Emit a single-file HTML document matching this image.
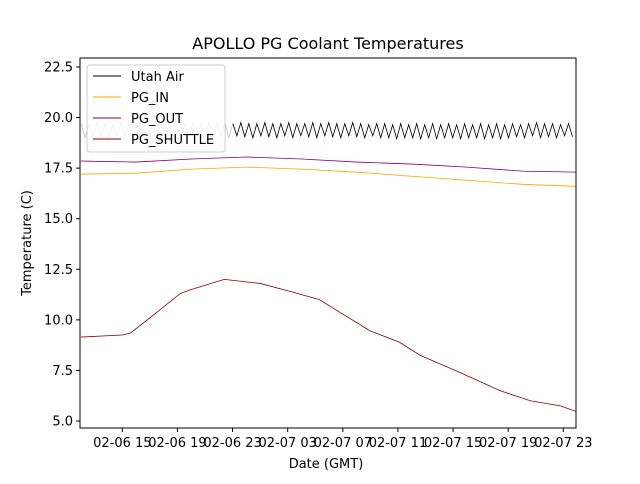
<!DOCTYPE html>
<html><head><meta charset="utf-8"><style>
body{margin:0;background:#fff;font-family:"DejaVu Sans","Liberation Sans",sans-serif}
svg text{font-family:"DejaVu Sans","Liberation Sans",sans-serif}
</style></head><body>
<svg id="c" width="640" height="480">
<rect width="640" height="480" fill="#fff"/>
<text x="328" y="49" font-size="16" text-anchor="middle">APOLLO PG Coolant Temperatures</text>
<text x="326" y="468" font-size="13" text-anchor="middle">Date (GMT)</text>
<text transform="translate(31,243) rotate(-90)" font-size="13" text-anchor="middle">Temperature (C)</text>
<g id="marks"></g><g id="axes"></g>
</svg>
<script>
// hours since 02-06 12:00
const shuttleT=[0,3,3.6,5,7.2,8,10.4,13,15.2,17.3,19.2,21,23.1,24.6,27.5,30.4,32.6,34.8,36];
const shuttleV=[9.15,9.25,9.35,10.1,11.3,11.5,12.0,11.8,11.4,11.0,10.2,9.45,8.9,8.25,7.4,6.5,6.0,5.75,5.45];
const outT=[0,4,8,12,16,20,24,28,32,36];
const outV=[17.85,17.8,17.95,18.05,17.95,17.8,17.7,17.55,17.35,17.3];
const inT=[0,4,8,12,16,20,24,28,32,36];
const inV=[17.2,17.25,17.45,17.55,17.45,17.3,17.1,16.9,16.7,16.6];
// alternating peaks / troughs of Utah Air, one every ~0.29 h
const airV=[
19.7,19.0,19.7,19.1,19.75,19.05,19.7,19.0,19.7,19.1,
19.75,19.05,19.7,19.0,19.7,19.1,19.75,19.05,19.7,19.0,
19.7,19.1,19.75,19.05,19.7,19.0,19.7,19.1,19.75,19.05,
19.7,19.0,19.75,19.1,19.7,19.05,19.75,19.0,19.7,19.1,
19.75,19.05,19.7,19.0,19.7,19.1,19.75,19.05,19.7,19.0,
19.7,19.1,19.75,19.0,19.7,19.1,19.7,19.05,19.75,19.0,
19.7,19.1,19.75,19.05,19.7,19.0,19.7,19.1,19.75,19.05,
19.7,19.0,19.65,19.1,19.7,19.0,19.7,19.0,19.65,18.95,
19.7,19.0,19.65,19.0,19.7,18.95,19.65,19.0,19.7,18.95,
19.65,19.0,19.7,19.0,19.65,18.95,19.7,19.0,19.65,19.0,
19.7,18.95,19.65,19.0,19.7,18.95,19.65,19.0,19.7,19.05,
19.65,19.0,19.7,19.1,19.75,19.0,19.7,19.05,19.7,19.0,
19.65,19.1,19.7,19.05];
const airStep=0.29;
const yTicks=[5.0,7.5,10.0,12.5,15.0,17.5,20.0,22.5];
const xTickT=[3,7,11,15,19,23,27,31,35];
const xTickL=["02-06 15","02-06 19","02-06 23","02-07 03","02-07 07","02-07 11","02-07 15","02-07 19","02-07 23"];
const X=t=>81+t*13.78, Y=v=>421-(v-5)*20.23;
const NS="http://www.w3.org/2000/svg";
const marks=document.getElementById('marks'), axes=document.getElementById('axes');
function mk(tag,at,par){const e=document.createElementNS(NS,tag);for(const k in at)e.setAttribute(k,at[k]);par.appendChild(e);return e;}
const cp=mk('clipPath',{id:'cp'},marks);mk('rect',{x:80,y:58,width:496,height:370},cp);
const g=mk('g',{'clip-path':'url(#cp)'},marks);
function line(ts,vs,col,name){const p=mk('polyline',{points:ts.map((t,i)=>X(t)+','+Y(vs[i])).join(' '),fill:'none',stroke:col,'stroke-width':0.8},g);

}
const airT=airV.map((v,i)=>i*airStep);
const n1=airT.findIndex(t=>t>10.8);
line(airT.slice(0,n1+1),airV.slice(0,n1+1),'#c0c0c0','utah-air-line-early');
line(airT.slice(n1),airV.slice(n1),'#000','utah-air-line');
line(inT,inV,'orange','pg-in-line');
line(outT,outV,'purple','pg-out-line');
line(shuttleT,shuttleV,'darkred','pg-shuttle-line');
const fr=mk('rect',{x:80,y:58,width:496,height:370,fill:'none',stroke:'#000','stroke-width':1},axes);


yTicks.forEach(v=>{mk('line',{x1:76,x2:80,y1:Y(v),y2:Y(v),stroke:'#000'},axes);
const t=mk('text',{x:73,y:Y(v)+4.5,'font-size':13,'text-anchor':'end'},axes);t.textContent=v.toFixed(1);

});
xTickT.forEach((tt,i)=>{mk('line',{x1:X(tt),x2:X(tt),y1:428,y2:432,stroke:'#000'},axes);
const t=mk('text',{x:X(tt),y:447,'font-size':13,'text-anchor':'middle'},axes);t.textContent=xTickL[i];

});
const lg=mk('g',{},axes);


mk('rect',{x:87,y:65,width:138,height:87,rx:3,fill:'#fff','fill-opacity':0.8,stroke:'#ccc'},lg);
[['Utah Air','#000'],['PG_IN','orange'],['PG_OUT','purple'],['PG_SHUTTLE','darkred']].forEach((e,i)=>{
const y=76+i*21;mk('line',{x1:93,x2:121,y1:y,y2:y,stroke:e[1],'stroke-width':0.9},lg);
const t=mk('text',{x:131,y:y+5,'font-size':13},lg);t.textContent=e[0];

});
</script>
</body></html>
